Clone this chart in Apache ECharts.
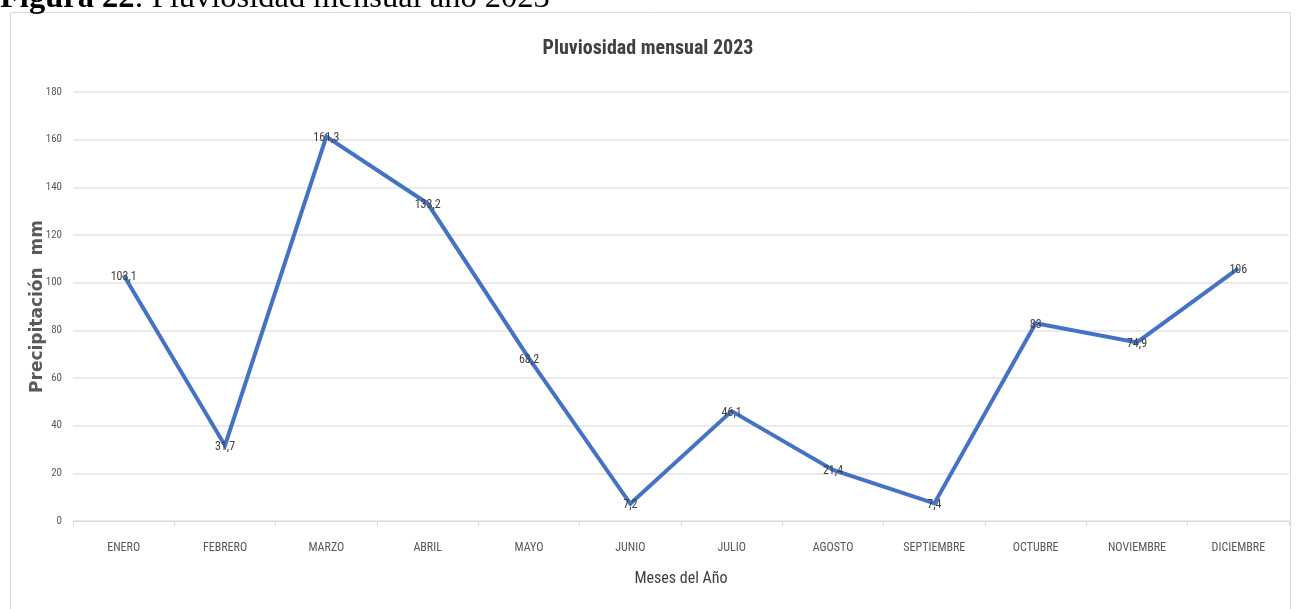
<!DOCTYPE html>
<html>
<head>
<meta charset="utf-8">
<title>Pluviosidad mensual 2023</title>
<script src="https://cdn.jsdelivr.net/npm/echarts@6/dist/echarts.min.js"></script>
<style>
  html, body { margin: 0; padding: 0; background: #ffffff; }
  #chart { width: 1296px; height: 609px; }
</style>
</head>
<body>
<div id="chart"></div>
<script>
// Monthly rainfall, 2023 (mm)
const months = ['ENERO', 'FEBRERO', 'MARZO', 'ABRIL', 'MAYO', 'JUNIO', 'JULIO',
                'AGOSTO', 'SEPTIEMBRE', 'OCTUBRE', 'NOVIEMBRE', 'DICIEMBRE'];
const rainfall = [103.1, 31.7, 161.3, 133.2, 68.2, 7.2, 46.1, 21.4, 7.4, 83, 74.9, 106];
const yTicks = [0, 20, 40, 60, 80, 100, 120, 140, 160, 180];

const narrow = '"Liberation Sans Narrow", "Arial Narrow", "Roboto Condensed", sans-serif';

const chart = echarts.init(document.getElementById('chart'), null, { renderer: 'canvas' });

chart.setOption({
  backgroundColor: '#ffffff',
  animation: false,
  title: {
    text: 'Pluviosidad mensual 2023',
    left: 'center',
    top: 34,
    textStyle: { fontFamily: narrow, fontSize: 20, fontWeight: 'bold', color: '#404040' }
  },
  graphic: [
    {
      type: 'rect',
      shape: { x: 10.5, y: 12.5, width: 1280, height: 610 },
      style: { fill: 'none', stroke: '#d9d9d9', lineWidth: 1 },
      z: -1
    },
    {
      type: 'text',
      left: 0,
      top: -18,
      style: {
        text: '{b|Figura 22}{r|: Pluviosidad mensual año 2023}',
        rich: {
          b: { fontFamily: '"Liberation Serif", "Times New Roman", serif', fontSize: 32.5, fontWeight: 'bold', fill: '#000' },
          r: { fontFamily: '"Liberation Serif", "Times New Roman", serif', fontSize: 32.5, fill: '#000' }
        }
      }
    }
  ],
  grid: { left: 73, right: 7, top: 92, bottom: 88 },
  xAxis: {
    type: 'category',
    data: months,
    boundaryGap: true,
    name: 'Meses del Año',
    nameLocation: 'middle',
    nameGap: 50,
    nameTextStyle: { fontFamily: narrow, fontSize: 16, color: '#404040' },
    axisLine: { lineStyle: { color: '#d9d9d9', width: 1 } },
    axisTick: { show: true, length: 5, alignWithLabel: false, lineStyle: { color: '#d9d9d9' } },
    axisLabel: { fontFamily: narrow, fontSize: 12, color: '#595959', margin: 21, interval: 0 }
  },
  yAxis: {
    type: 'value',
    min: yTicks[0],
    max: yTicks[yTicks.length - 1],
    interval: 20,
    name: 'Precipitación  mm',
    nameLocation: 'middle',
    nameGap: 27,
    nameMoveOverlap: false,
    nameTextStyle: { fontFamily: '"DejaVu Sans", Verdana, sans-serif', fontSize: 17, fontWeight: 'bold', color: '#595959' },
    axisLine: { show: false },
    axisTick: { show: false },
    axisLabel: { fontFamily: narrow, fontSize: 11, color: '#595959', margin: 11 },
    splitLine: { lineStyle: { color: '#e3e3e3', width: 1.5 } }
  },
  series: [{
    type: 'line',
    data: rainfall,
    showSymbol: true,
    symbol: 'circle',
    symbolSize: 1,
    itemStyle: { color: 'rgba(68,114,196,0)', borderWidth: 0 },
    lineStyle: { color: '#4472C4', width: 4, join: 'miter' },
    label: {
      show: true,
      position: 'top',
      distance: -8,
      fontFamily: narrow,
      fontSize: 12,
      color: '#404040',
      formatter: p => String(p.value).replace('.', ',')
    },
    labelLayout: { hideOverlap: false }
  }]
});
</script>
</body>
</html>
